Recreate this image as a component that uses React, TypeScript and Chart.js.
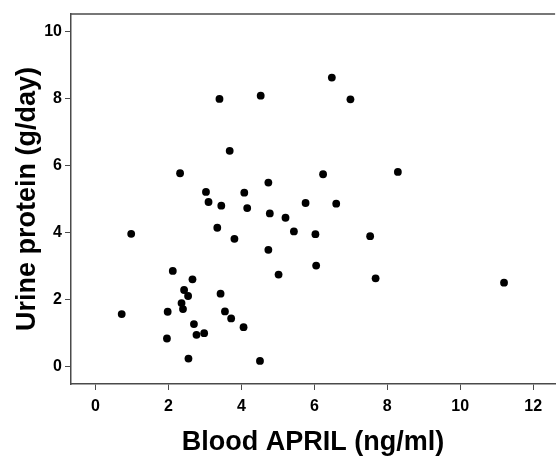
import React, { useEffect, useRef } from "react";
import { Chart, registerables } from "chart.js";

Chart.register(...registerables);

const bloodApril: number[] = [
  3.40, 4.53, 3.68, 2.32, 4.74, 3.03, 4.08,
  6.48, 6.99, 6.24, 8.29,
  3.10, 3.45, 4.16, 5.76, 4.78, 5.21, 3.34, 5.44, 0.98, 3.81, 4.74, 5.02,
  2.12, 2.66, 2.43, 2.54, 3.43, 2.36, 2.40, 0.72, 1.98, 3.55, 3.72, 2.70,
  4.06, 2.77, 2.98, 1.96, 2.55, 4.51,
  6.60, 6.03, 7.53, 6.05, 7.68, 11.20,
];
const urineProtein: number[] = [
  7.99, 8.09, 6.44, 5.77, 5.49, 5.21, 5.19,
  8.63, 7.98, 5.74, 5.81,
  4.91, 4.80, 4.73, 4.88, 4.57, 4.44, 4.14, 4.03, 3.96, 3.81, 3.48, 2.74,
  2.85, 2.60, 2.28, 2.10, 2.17, 1.89, 1.71, 1.56, 1.63, 1.64, 1.43, 1.26,
  1.17, 0.94, 0.99, 0.83, 0.23, 0.16,
  4.86, 3.95, 3.89, 3.01, 2.63, 2.50,
];
const xTitle = "Blood APRIL (ng/ml)";
const yTitle = "Urine protein (g/day)";
const xTickStep = 2;
const yTickStep = 2;

const FONT = "'Liberation Sans', Arial, Helvetica, sans-serif";
const AXIS = "#4a4a4a";

export default function App() {
  const ref = useRef<HTMLCanvasElement | null>(null);
  useEffect(() => {
    if (!ref.current) return;
    const points = bloodApril.map((x, i) => ({ x, y: urineProtein[i] }));
    const topBorder = {
      id: "topBorder",
      afterDraw(chart: any) {
        const { ctx, chartArea } = chart;
        ctx.save();
        ctx.strokeStyle = AXIS;
        ctx.lineWidth = 1.5;
        ctx.beginPath();
        ctx.moveTo(chartArea.left, chartArea.top);
        ctx.lineTo(chartArea.right, chartArea.top);
        ctx.stroke();
        ctx.restore();
      },
    };
    const chart = new Chart(ref.current, {
      type: "scatter",
      data: {
        datasets: [
          {
            data: points,
            backgroundColor: "#000",
            borderColor: "#000",
            pointRadius: 3.9,
            pointHoverRadius: 3.9,
            borderWidth: 0,
          },
        ],
      },
      options: {
        animation: false,
        responsive: true,
        maintainAspectRatio: false,
        layout: { padding: { top: 14, left: 0, right: 0, bottom: 0 } },
        plugins: { legend: { display: false }, tooltip: { enabled: false } },
        scales: {
          x: {
            type: "linear",
            min: -0.67,
            max: 12.6,
            afterFit: (s: any) => { s.height = 75; },
            border: { display: true, color: AXIS, width: 1.5 },
            grid: { drawOnChartArea: false, drawTicks: true, tickLength: 6, color: AXIS, tickWidth: 1 },
            ticks: {
              stepSize: xTickStep,
              includeBounds: false,
              color: "#000",
              padding: 7,
              font: { family: FONT, size: 16, weight: "bold" },
            },
            title: {
              display: true,
              text: xTitle,
              color: "#000",
              padding: { top: 0, bottom: 0 },
              font: { family: FONT, size: 27, weight: "bold" },
            },
          },
          y: {
            type: "linear",
            min: -0.53,
            max: 10.53,
            afterFit: (s: any) => { s.width = 71; },
            border: { display: true, color: AXIS, width: 1.5 },
            grid: { drawOnChartArea: false, drawTicks: true, tickLength: 6, color: AXIS, tickWidth: 1 },
            ticks: {
              stepSize: yTickStep,
              includeBounds: false,
              color: "#000",
              padding: 3,
              font: { family: FONT, size: 16, weight: "bold" },
            },
            title: {
              display: true,
              text: yTitle,
              color: "#000",
              padding: { top: 11, bottom: 0 },
              font: { family: FONT, size: 27, weight: "bold" },
            },
          },
        },
      },
      plugins: [topBorder],
    });
    return () => chart.destroy();
  }, []);
  return (
    <div style={{ position: "absolute", left: 0, top: 0, width: 559, height: 459, background: "#fff" }}>
      <canvas ref={ref} />
    </div>
  );
}
